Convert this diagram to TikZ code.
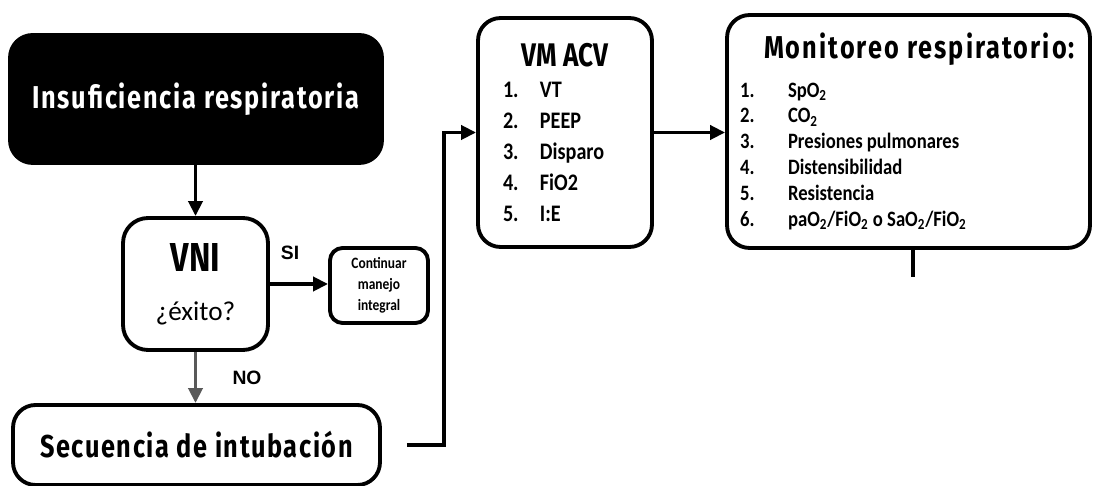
\documentclass[tikz,border=0pt]{standalone}
\usepackage{fontspec}
\usepackage{tikz}
\usetikzlibrary{positioning, arrows.meta}
\newfontfamily\headfont{Fira Sans}[FakeStretch=0.8]
\newfontfamily\condfont{Carlito}[FakeStretch=0.85]
\newfontfamily\plainfont{Carlito}
\newfontfamily\labfont{Liberation Sans}

\begin{document}
\begin{tikzpicture}[x=0.02cm, y=-0.02cm,
    box/.style={draw, line width=2.2pt, rounded corners=0.45cm, fill=white},
    arr/.style={line width=2.2pt, -{Triangle[length=0.3cm, width=0.28cm]}},
    lbl/.style={font=\labfont\bfseries\fontsize{11}{13}\selectfont}]
    \useasboundingbox (0,0) rectangle (1093,486);

    \node[box, fill=black, text=white, minimum width=7.44cm, minimum height=2.56cm, font=\headfont\bfseries\addfontfeatures{LetterSpace=5.5}\fontsize{18}{22}\selectfont] (ins) at (196,99) {Insuficiencia respiratoria};
    \node[box, rounded corners=0.5cm, minimum width=2.9cm, minimum height=2.64cm, align=center] (vni) at (195.5,284) {{\headfont\bfseries\fontsize{23}{27}\selectfont VNI}\\[16pt]{\plainfont\fontsize{15.5}{18}\selectfont ¿éxito?}};
    \node[box, rounded corners=0.25cm, minimum width=1.96cm, minimum height=1.5cm, align=center, font=\condfont\bfseries\fontsize{9}{12}\selectfont] (cont) at (379,285.5) {Continuar\\manejo\\integral};
    \node[box, minimum width=7.34cm, minimum height=1.6cm, font=\headfont\bfseries\addfontfeatures{LetterSpace=5}\fontsize{18}{22}\selectfont] (sec) at (196.5,445) {Secuencia de intubación};
    \node[box, minimum width=3.48cm, minimum height=4.58cm, text width=2.48cm, inner xsep=0.5cm, align=flush left, font=\condfont\bfseries\fontsize{13.5}{17.6}\selectfont] (acv) at (565,132.5) {{\centering\headfont\fontsize{18.6}{22}\selectfont VM ACV\par}
        \makebox[0.74cm][l]{1.}VT\\
        \makebox[0.74cm][l]{2.}PEEP\\
        \makebox[0.74cm][l]{3.}Disparo\\
        \makebox[0.74cm][l]{4.}FiO2\\
        \makebox[0.74cm][l]{5.}I:E};
    \node[box, minimum width=7.26cm, minimum height=4.66cm, text width=6.74cm, inner xsep=0.26cm, align=flush left, font=\condfont\bfseries\fontsize{12.5}{14.7}\selectfont] (mon) at (908.5,131.5) {\makebox[\linewidth][c]{\hspace{0.44cm}\headfont\bfseries\addfontfeatures{LetterSpace=6.5}\fontsize{18}{22}\selectfont Monitoreo respiratorio:}\\[7pt]
        \makebox[0.96cm][l]{1.}SpO\textsubscript{2}\\
        \makebox[0.96cm][l]{2.}CO\textsubscript{2}\\
        \makebox[0.96cm][l]{3.}Presiones pulmonares\\
        \makebox[0.96cm][l]{4.}Distensibilidad\\
        \makebox[0.96cm][l]{5.}Resistencia\\
        \makebox[0.96cm][l]{6.}paO\textsubscript{2}/FiO\textsubscript{2} o SaO\textsubscript{2}/FiO\textsubscript{2}};

    \node[lbl] (si) at (290,253) {SI};
    \node[lbl] (no) at (247,378) {NO};
    \coordinate (monend) at (913,277);

    \draw[arr] (vni.north |- ins.south) -- (vni.north);
    \draw[arr] (vni.east) -- (vni.east -| cont.west);
    \draw[arr, gray!70!black] (vni.south) -- (vni.south |- sec.north);
    \draw[arr, shorten <=0.5cm] (sec.east) -- ++(62,0) |- (acv.west);
    \draw[arr] (acv.east) -- (acv.east -| mon.west);
    \draw[line width=2.2pt] (monend |- mon.south) -- (monend);
\end{tikzpicture}
\end{document}
